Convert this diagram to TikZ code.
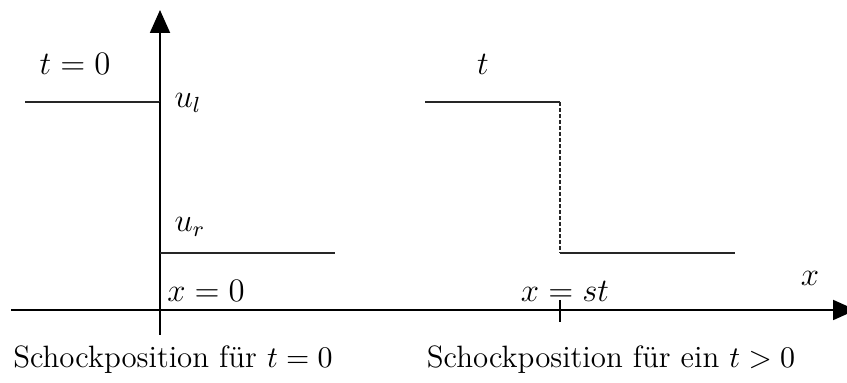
\documentclass[tikz,border=0pt]{standalone}
\usetikzlibrary{arrows.meta}
\begin{document}
\begin{tikzpicture}[x=0.366pt,y=-0.366pt,
  axis/.style={line width=0.75pt,-{Triangle[length=8.4pt,width=7.3pt]}},
  stepline/.style={line width=0.45pt,black!85},
  lbl/.style={inner sep=0pt,font=\fontsize{11.5}{13}\selectfont},
  captxt/.style={inner sep=0pt,font=\fontsize{11.3}{13}\selectfont}]
\useasboundingbox (0,0) rectangle (847,383);
% axes
\coordinate (xs) at (11,310);
\coordinate (xe) at (856,310);
\coordinate (ys) at (160,335);
\coordinate (ye) at (160,10);
\draw[axis] (xs) -- (xe);
\draw[axis] (ys) -- (ye);
% left step
\coordinate (l1) at (25,102);
\coordinate (l2) at (160,102);
\coordinate (l3) at (160,253);
\coordinate (l4) at (335,253);
\draw[stepline] (l1) -- (l2);
\draw[line width=1pt] (l2) -- (l3);
\draw[stepline] (l3) -- (l4);
% right step
\coordinate (r1) at (425,102);
\coordinate (r2) at (560,102);
\coordinate (r3) at (560,253);
\coordinate (r4) at (735,253);
\draw[stepline] (r1) -- (r2);
\draw[stepline,dash pattern=on 1.4pt off 0.8pt] (r2) -- (r3);
\draw[stepline] (r3) -- (r4);
% tick
\coordinate (t1) at (560,300);
\coordinate (t2) at (560,322);
\draw[line width=0.45pt] (t1) -- (t2);
% labels
\node[lbl] (tzero) at (75,64) {$t=0$};
\node[lbl] (tr) at (483,64) {$t$};
\node[lbl,anchor=west] (ul) at (174,103) {$u_l$};
\node[lbl,anchor=west] (ur) at (174,227) {$u_r$};
\node[lbl] (x0) at (206,291) {$x=0$};
\node[lbl] (xst) at (565,291) {$x=st$};
\node[lbl] (xl) at (810,278) {$x$};
\node[captxt] (b1) at (173,360) {Schockposition f\"ur $t=0$};
\node[captxt] (b2) at (611,360) {Schockposition f\"ur ein $t>0$};
\end{tikzpicture}
\end{document}
